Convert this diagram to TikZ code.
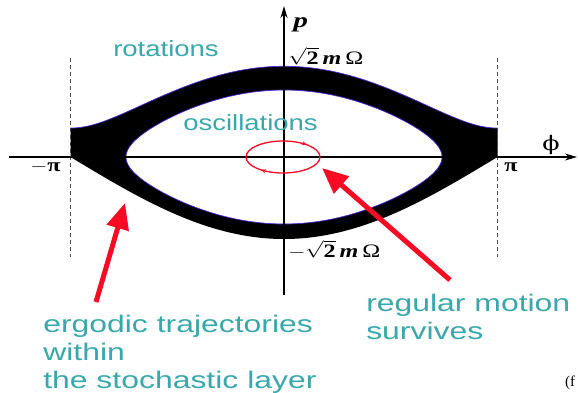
\documentclass[tikz,border=0pt]{standalone}
\usepackage{fontspec}
\usepackage{amsmath}
\setmainfont{Liberation Serif}
\setsansfont{Liberation Sans}
\newfontfamily\greekserif{DejaVu Serif}
\usetikzlibrary{
  arrows.meta,          % Stealth / Triangle tips
  decorations.markings, % arrows on the orbit
  positioning
}
\definecolor{labelteal}{RGB}{56,168,172}
\definecolor{arrowred}{RGB}{250,10,35}
\definecolor{edgeblue}{RGB}{80,40,220}
\tikzset{
  caption/.style={
    font=\sffamily\fontsize{22}{26}\selectfont,
    text=labelteal,
    inner sep=0pt,
    xscale=1.25
  },
  note/.style={
    font=\sffamily\fontsize{24}{28}\selectfont,
    text=labelteal,
    inner sep=0pt,
    align=left,
    xscale=1.33
  },
  axislabel/.style={
    inner sep=0pt,
    font=\fontsize{19}{21}\selectfont,
    xscale=1.27
  },
  axis/.style={
    line width=1.3pt,
    -{Stealth[length=12pt,width=7pt]}
  },
  bound/.style={
    gray!60!black,
    dash pattern=on 4pt off 3pt,
    line width=0.9pt
  },
  layerfill/.style={fill=black},
  layeredge/.style={draw=edgeblue, line width=0.7pt},
  orbit/.style={
    draw=arrowred,
    line width=1.3pt,
    postaction={decorate},
    decoration={markings,
      mark=at position 0.38 with {\arrow{Stealth[length=5pt,width=4pt]}},
      mark=at position 0.89 with {\arrow{Stealth[length=5pt,width=4pt]}}}
  },
  pointer/.style={
    arrowred,
    line width=5pt,
    -{Triangle[length=26pt,width=22pt]}
  }
}

\begin{document}
\begin{tikzpicture}[x=1pt, y=-1pt]
  \useasboundingbox (0,0) rectangle (578,392);

  % --- stochastic layer ---
  \fill[layerfill, even odd rule]
    plot[domain=-180:180, samples=121, variable=\t]
      ({284+\t/180*213.5}, {157-43*sqrt(2*(1.226+cos(\t)))})
    -- plot[domain=180:-180, samples=121, variable=\t]
      ({284+\t/180*213.5}, {157+82*cos(\t/2)})
    -- cycle
    plot[domain=0:180, samples=91, variable=\t]
      ({284-158*cos(\t)}, {157-36.5*sqrt(abs(2*(0.685+cos(133.2*cos(\t)))))})
    -- plot[domain=180:360, samples=91, variable=\t]
      ({284-158*cos(\t)}, {157+36.5*sqrt(abs(2*(0.685+cos(133.2*cos(\t)))))})
    -- cycle;
  \draw[layeredge]
    plot[domain=-180:180, samples=121, variable=\t]
      ({284+\t/180*213.5}, {157-43*sqrt(2*(1.226+cos(\t)))});
  \draw[layeredge]
    plot[domain=0:180, samples=91, variable=\t]
      ({284-158*cos(\t)}, {157-36.5*sqrt(abs(2*(0.685+cos(133.2*cos(\t)))))})
    -- plot[domain=180:360, samples=91, variable=\t]
      ({284-158*cos(\t)}, {157+36.5*sqrt(abs(2*(0.685+cos(133.2*cos(\t)))))});

  % --- separatrix bounds ---
  \draw[bound] (70.5,58) -- (70.5,257);
  \draw[bound] (497.5,58) -- (497.5,257);

  % --- axes ---
  \coordinate (west) at (9,157);
  \coordinate (east) at (577,157);
  \coordinate (south) at (284,295);
  \coordinate (north) at (284,6);
  \draw[axis] (west) -- (east);
  \draw[axis, line width=2.6pt] (south) -- (north);

  % --- regular orbit ---
  \draw[orbit] (283,157) ellipse [x radius=37, y radius=16];

  % --- axis labels ---
  \node[axislabel, anchor=base west, font=\fontsize{21}{23}\selectfont, xscale=1.1]
    (plabel) at (293,27) {\bfseries\itshape p};
  \node[axislabel, anchor=base west, text height=13pt] (pmax) at (288,64)
    {$\sqrt{\textbf{2}}$\,\textbf{\textit{m}}\,Ω};
  \node[axislabel, anchor=base west, text height=13pt] (pmin) at (288,257)
    {$-\sqrt{\textbf{2}}$\,\textbf{\textit{m}}\,Ω};
  \node[axislabel, anchor=base west, font=\greekserif\fontsize{20}{22}\selectfont, xscale=1]
    (philabel) at (542,150) {ϕ};
  \node[axislabel, anchor=base west] (pilabel) at (504,171) {\bfseries π};
  \node[axislabel, anchor=base west] (mpilabel) at (30,171) {$-$\bfseries π};

  % --- region captions ---
  \node[caption, anchor=base west] (rotlabel) at (113,56) {rotations};
  \node[caption, anchor=base west] (osclabel) at (183,130) {oscillations};

  % --- pointers ---
  \node[note, anchor=base west] (ergolabel) at (43,388)
    {ergodic trajectories\\within\\the stochastic layer};
  \node[note, anchor=base west] (reglabel) at (366,339)
    {regular motion\\survives};
  \coordinate (ergtail) at (96,302);
  \coordinate (ergtip) at (125,203);
  \coordinate (regtail) at (450,280);
  \coordinate (regtip) at (322,168);
  \draw[pointer] (ergtail) -- (ergtip);
  \draw[pointer] (regtail) -- (regtip);

  \node[inner sep=0pt, anchor=base west, font=\fontsize{15}{17}\selectfont]
    (corner) at (565,386) {(f};
\end{tikzpicture}
\end{document}
